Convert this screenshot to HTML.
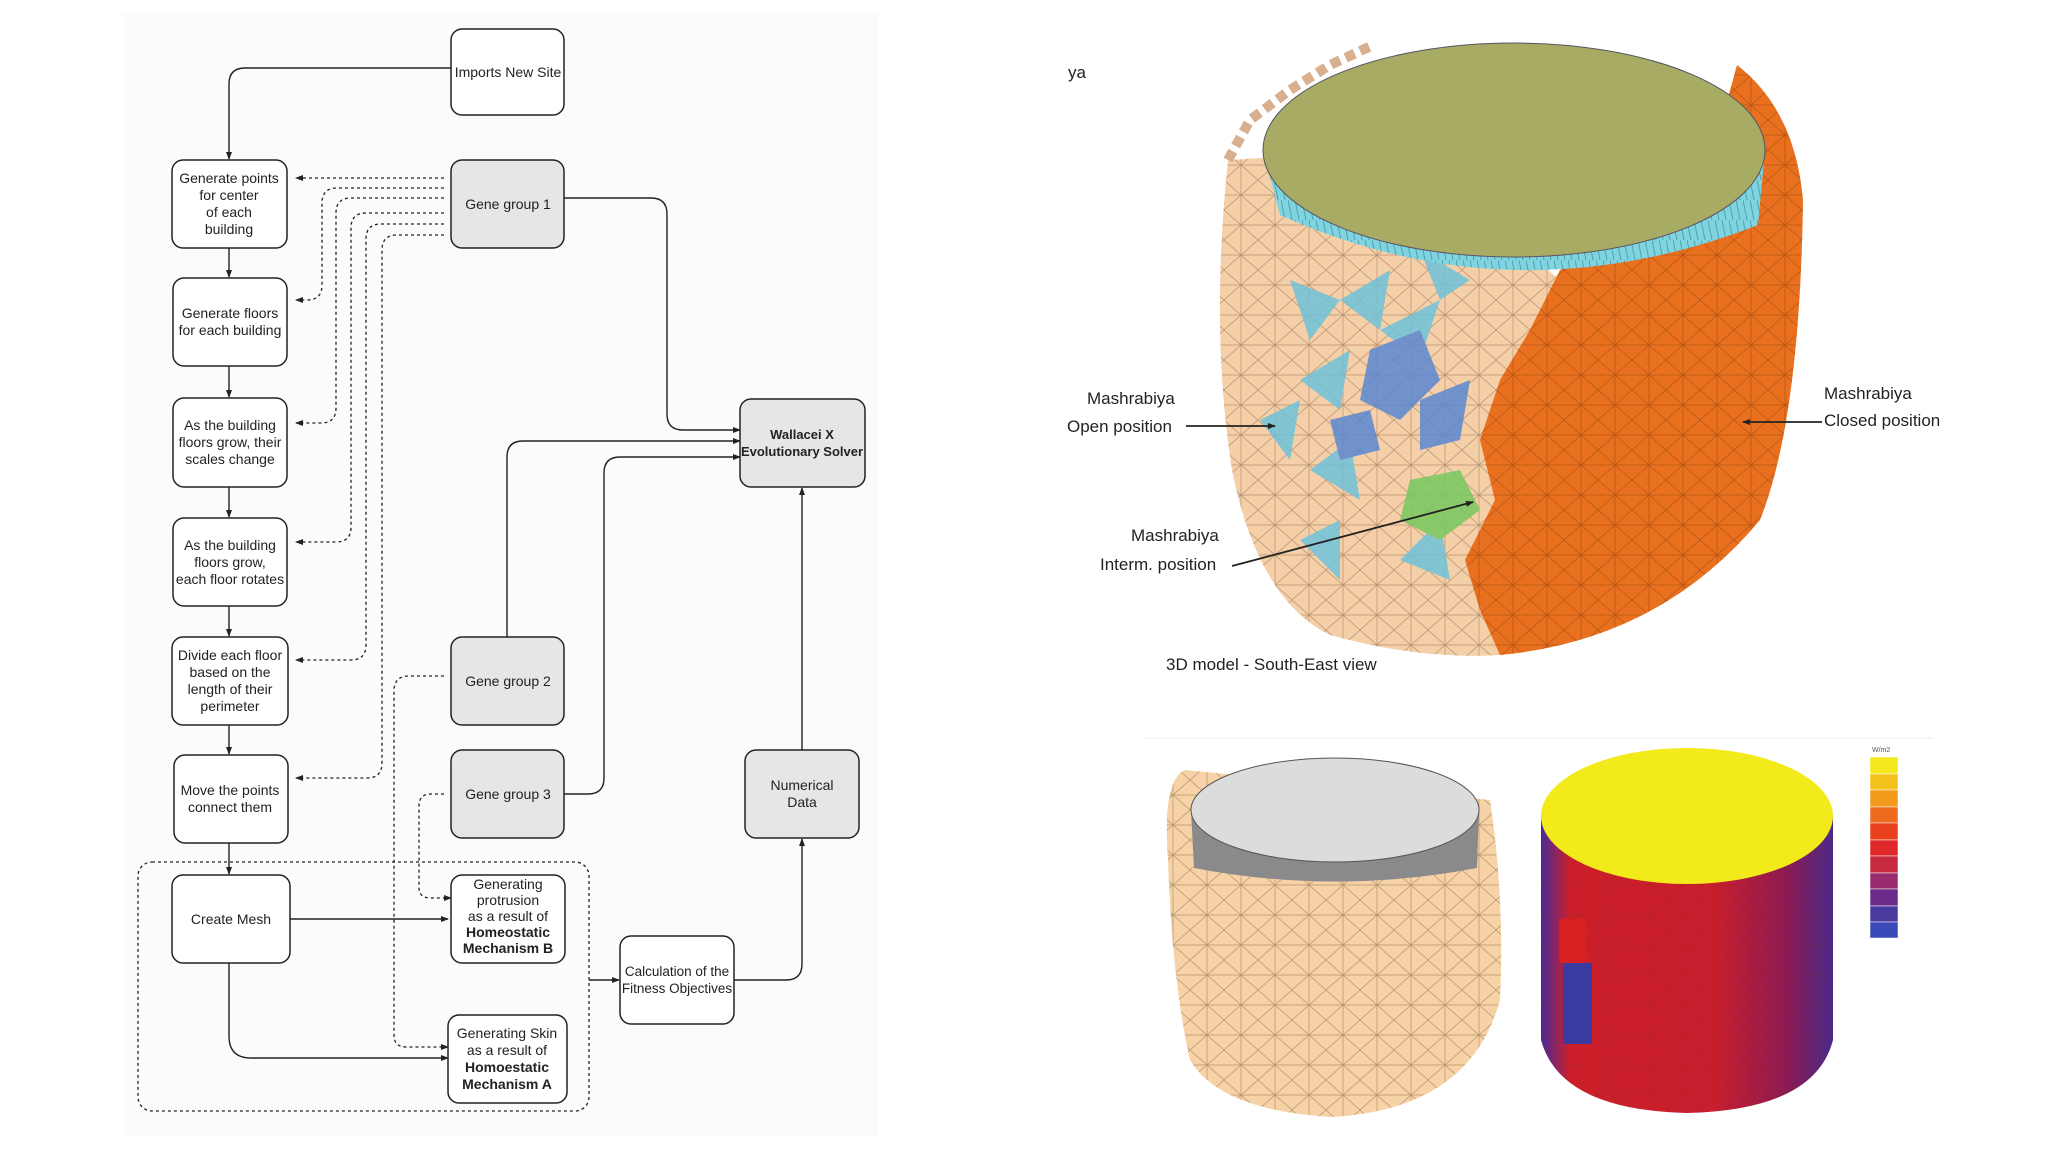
<!DOCTYPE html>
<html><head><meta charset="utf-8"><style>
html,body{margin:0;padding:0;background:#fff;}
svg{display:block;}
text{font-family:"Liberation Sans",sans-serif;}
</style></head><body>
<svg width="2048" height="1152" viewBox="0 0 2048 1152" xmlns="http://www.w3.org/2000/svg">
<defs>
<marker id="a" markerWidth="8" markerHeight="8" refX="7" refY="4" orient="auto" markerUnits="userSpaceOnUse"><path d="M0,1 L8,4 L0,7 z" fill="#222"/></marker>
<pattern id="mesh" width="34" height="30" patternUnits="userSpaceOnUse">
<path d="M0,0 L34,30 M34,0 L0,30 M17,0 L17,30 M0,15 L34,15" stroke="#6b4a2a" stroke-width="0.7" opacity="0.45" fill="none"/></pattern>
<pattern id="mesh2" width="34" height="30" patternUnits="userSpaceOnUse">
<path d="M0,0 L34,30 M34,0 L0,30 M17,0 L17,30 M0,15 L34,15" stroke="#6a2a05" stroke-width="0.7" opacity="0.4" fill="none"/></pattern>
<pattern id="band" width="7" height="20" patternUnits="userSpaceOnUse"><path d="M0,0 L4,20" stroke="#2f7f8f" stroke-width="1"/></pattern>
<linearGradient id="red" x1="0" x2="1"><stop offset="0" stop-color="#4a2a9a"/><stop offset="0.1" stop-color="#cc1f2a"/><stop offset="0.6" stop-color="#c81e2e"/><stop offset="0.85" stop-color="#8a1a55"/><stop offset="1" stop-color="#4a2a8a"/></linearGradient>
</defs>
<rect x="124" y="13" width="754" height="1124" fill="#fbfbfb"/>
<g fill="none" stroke="#222" stroke-width="1.4">
<path d="M451,68 H245 Q229,68 229,84 V159" marker-end="url(#a)"/>
<path d="M229,248 V277" marker-end="url(#a)"/>
<path d="M229,366 V397" marker-end="url(#a)"/>
<path d="M229,487 V517" marker-end="url(#a)"/>
<path d="M229,606 V636" marker-end="url(#a)"/>
<path d="M229,725 V754" marker-end="url(#a)"/>
<path d="M229,843 V874" marker-end="url(#a)"/>
<path d="M288,919 H448" marker-end="url(#a)"/>
<path d="M229,963 V1036 Q229,1058 251,1058 H448" marker-end="url(#a)"/>
<path d="M564,198 H651 Q667,198 667,214 V414 Q667,430 683,430 H740" marker-end="url(#a)"/>
<path d="M507,637 V457 Q507,441 523,441 H740" marker-end="url(#a)"/>
<path d="M564,794 H588 Q604,794 604,778 V473 Q604,457 620,457 H740" marker-end="url(#a)"/>
<path d="M802,750 V488" marker-end="url(#a)"/>
<path d="M734,980 H786 Q802,980 802,964 V839" marker-end="url(#a)"/>
<path d="M589,980 H619" marker-end="url(#a)"/>
</g>
<g fill="none" stroke="#222" stroke-width="1.3" stroke-dasharray="3,3">
<path d="M444,178 H296" marker-end="url(#a)"/>
<path d="M444,188 H337 Q322,188 322,203 V285 Q322,300 307,300 H296" marker-end="url(#a)"/>
<path d="M444,198 H351 Q336,198 336,213 V408 Q336,423 321,423 H296" marker-end="url(#a)"/>
<path d="M444,213 H366 Q351,213 351,228 V527 Q351,542 336,542 H296" marker-end="url(#a)"/>
<path d="M444,224 H381 Q366,224 366,239 V645 Q366,660 351,660 H296" marker-end="url(#a)"/>
<path d="M444,235 H397 Q382,235 382,250 V763 Q382,778 367,778 H296" marker-end="url(#a)"/>
<path d="M444,676 H409 Q394,676 394,691 V1035 Q394,1047 406,1047 H448" marker-end="url(#a)"/>
<path d="M444,794 H431 Q419,794 419,806 V888 Q419,898 431,898 H451" marker-end="url(#a)"/>
<rect x="138" y="862" width="451" height="249" rx="14"/>
</g>
<g stroke="#222" stroke-width="1.5">
<rect x="451" y="29" width="113" height="86" rx="11" fill="#fff"/>
<rect x="172" y="160" width="115" height="88" rx="11" fill="#fff"/>
<rect x="173" y="278" width="114" height="88" rx="11" fill="#fff"/>
<rect x="173" y="398" width="114" height="89" rx="11" fill="#fff"/>
<rect x="173" y="518" width="114" height="88" rx="11" fill="#fff"/>
<rect x="172" y="637" width="116" height="88" rx="11" fill="#fff"/>
<rect x="174" y="755" width="114" height="88" rx="11" fill="#fff"/>
<rect x="172" y="875" width="118" height="88" rx="11" fill="#fff"/>
<rect x="451" y="160" width="113" height="88" rx="11" fill="#e6e6e6"/>
<rect x="451" y="637" width="113" height="88" rx="11" fill="#e6e6e6"/>
<rect x="451" y="750" width="113" height="88" rx="11" fill="#e6e6e6"/>
<rect x="451" y="875" width="114" height="88" rx="11" fill="#fff"/>
<rect x="448" y="1015" width="119" height="88" rx="11" fill="#fff"/>
<rect x="740" y="399" width="125" height="88" rx="11" fill="#e6e6e6"/>
<rect x="745" y="750" width="114" height="88" rx="11" fill="#e6e6e6"/>
<rect x="620" y="936" width="114" height="88" rx="11" fill="#fff"/>
</g>
<g font-size="14" fill="#222" text-anchor="middle">
<text x="508" y="77">Imports New Site</text>
<text x="229" y="183">Generate points</text><text x="229" y="200">for center</text><text x="229" y="217">of each</text><text x="229" y="234">building</text>
<text x="230" y="318">Generate floors</text><text x="230" y="335">for each building</text>
<text x="230" y="430">As the building</text><text x="230" y="447">floors grow, their</text><text x="230" y="464">scales change</text>
<text x="230" y="550">As the building</text><text x="230" y="567">floors grow,</text><text x="230" y="584">each floor rotates</text>
<text x="230" y="660">Divide each floor</text><text x="230" y="677">based on the</text><text x="230" y="694">length of their</text><text x="230" y="711">perimeter</text>
<text x="230" y="795">Move the points</text><text x="230" y="812">connect them</text>
<text x="231" y="924">Create Mesh</text>
<text x="508" y="209">Gene group 1</text>
<text x="508" y="686">Gene group 2</text>
<text x="508" y="799">Gene group 3</text>
<text x="508" y="889">Generating</text><text x="508" y="905">protrusion</text><text x="508" y="921">as a result of</text>
<text x="508" y="937" font-weight="bold">Homeostatic</text><text x="508" y="953" font-weight="bold">Mechanism B</text>
<text x="507" y="1038">Generating Skin</text><text x="507" y="1055">as a result of</text>
<text x="507" y="1072" font-weight="bold">Homoestatic</text><text x="507" y="1089" font-weight="bold">Mechanism A</text>
<text x="802" y="439" font-weight="bold" font-size="13">Wallacei X</text><text x="802" y="456" font-weight="bold" font-size="13">Evolutionary Solver</text>
<text x="802" y="790">Numerical</text><text x="802" y="807">Data</text>
<text x="677" y="976" font-size="13.5">Calculation of the</text><text x="677" y="993" font-size="13.5">Fitness Objectives</text>
</g>

<!-- top 3D model -->
<g>
<path d="M1228,160 Q1210,330 1232,470 Q1258,600 1330,635 Q1420,660 1500,655 L1560,280 L1400,150 Z" fill="#f5cfa8"/>
<path d="M1228,160 Q1210,330 1232,470 Q1258,600 1330,635 Q1420,660 1500,655 L1560,280 L1400,150 Z" fill="url(#mesh)"/>
<path d="M1228,160 L1250,120 L1290,90 L1330,65 L1371,46" stroke="#d8b090" stroke-width="10" fill="none" stroke-dasharray="10,6"/>
<g opacity="0.85">
<path d="M1290,280 L1340,300 L1310,340 Z M1340,300 L1390,270 L1380,330 Z M1380,330 L1440,300 L1420,360 Z M1300,380 L1350,350 L1340,410 Z M1260,420 L1300,400 L1290,460 Z M1310,470 L1350,440 L1360,500 Z M1400,560 L1440,520 L1450,580 Z M1300,540 L1340,520 L1340,580 Z M1420,250 L1470,280 L1440,300 Z" fill="#6fc3da"/>
<path d="M1370,350 L1420,330 L1440,380 L1400,420 L1360,400 Z M1420,400 L1470,380 L1460,440 L1420,450 Z M1330,420 L1370,410 L1380,450 L1340,460 Z" fill="#5a88d2"/>
<path d="M1410,480 L1460,470 L1480,510 L1440,540 L1400,520 Z" fill="#78c860"/>
</g>
<path d="M1500,655 Q1660,640 1760,520 Q1800,420 1803,200 Q1795,110 1737,65 L1700,200 L1560,270 L1530,330 L1500,380 L1480,440 L1495,500 L1465,560 L1480,610 Z" fill="#e8701e"/>
<path d="M1500,655 Q1660,640 1760,520 Q1800,420 1803,200 Q1795,110 1737,65 L1700,200 L1560,270 L1530,330 L1500,380 L1480,440 L1495,500 L1465,560 L1480,610 Z" fill="url(#mesh2)"/>
<path d="M1263,150 L1280,215 Q1514,320 1758,225 L1765,150 Z" fill="#80d4e0"/>
<path d="M1263,150 L1280,215 Q1514,320 1758,225 L1765,150 Z" fill="url(#band)" opacity="0.6"/>
<ellipse cx="1514" cy="150" rx="251" ry="107" fill="#a7ab63" stroke="#556" stroke-width="1"/>
</g>
<g font-size="17" fill="#222">
<text x="1068" y="78">ya</text>
<text x="1087" y="404">Mashrabiya</text><text x="1067" y="432">Open position</text>
<text x="1824" y="399">Mashrabiya</text><text x="1824" y="426">Closed position</text>
<text x="1131" y="541">Mashrabiya</text><text x="1100" y="570">Interm. position</text>
<text x="1166" y="670">3D model  - South-East view</text>
</g>
<g stroke="#222" stroke-width="1.8" fill="none">
<path d="M1186,426 H1275" marker-end="url(#a)"/>
<path d="M1822,422 H1743" marker-end="url(#a)"/>
<path d="M1232,566 L1473,502" marker-end="url(#a)"/>
</g>
<line x1="1143" y1="738" x2="1933" y2="738" stroke="#eee" stroke-width="1"/>
<!-- bottom peach -->
<path d="M1168,860 Q1162,780 1185,770 L1490,800 Q1505,900 1500,1000 Q1470,1110 1330,1117 Q1220,1110 1190,1060 Q1172,980 1168,860 Z" fill="#f6d2a6"/>
<path d="M1168,860 Q1162,780 1185,770 L1490,800 Q1505,900 1500,1000 Q1470,1110 1330,1117 Q1220,1110 1190,1060 Q1172,980 1168,860 Z" fill="url(#mesh)"/>
<path d="M1191,810 L1194,868 Q1335,895 1477,868 L1479,810 Z" fill="#8a8a8a"/>
<ellipse cx="1335" cy="810" rx="144" ry="52" fill="#dcdcdc" stroke="#555" stroke-width="1"/>
<!-- bottom red -->
<path d="M1541,816 L1541,1040 Q1560,1110 1687,1113 Q1815,1110 1833,1040 L1833,816 Z" fill="url(#red)"/>
<path d="M1541,816 L1541,1040 Q1560,1110 1687,1113 Q1815,1110 1833,1040 L1833,816 Z" fill="url(#mesh2)" opacity="0.4"/>
<rect x="1559" y="919" width="27" height="44" fill="#d82020"/>
<rect x="1563" y="963" width="29" height="81" fill="#3a3aa0"/>
<ellipse cx="1687" cy="816" rx="146" ry="68" fill="#f2ea1a"/>
<!-- legend -->
<text x="1872" y="752" font-size="7" fill="#555">W/m2</text>
<g stroke="#fff" stroke-width="0.5">
<rect x="1870" y="757" width="28" height="17" fill="#f4e81c"/>
<rect x="1870" y="774" width="28" height="16" fill="#f4c21c"/>
<rect x="1870" y="790" width="28" height="17" fill="#f49a1c"/>
<rect x="1870" y="807" width="28" height="16" fill="#ee6a1c"/>
<rect x="1870" y="823" width="28" height="17" fill="#e8401c"/>
<rect x="1870" y="840" width="28" height="16" fill="#e02a2a"/>
<rect x="1870" y="856" width="28" height="17" fill="#c82a40"/>
<rect x="1870" y="873" width="28" height="16" fill="#9a2a70"/>
<rect x="1870" y="889" width="28" height="17" fill="#6a2a8a"/>
<rect x="1870" y="906" width="28" height="16" fill="#4a3aa0"/>
<rect x="1870" y="922" width="28" height="16" fill="#3a4ab8"/>
</g>
</svg>
</body></html>
